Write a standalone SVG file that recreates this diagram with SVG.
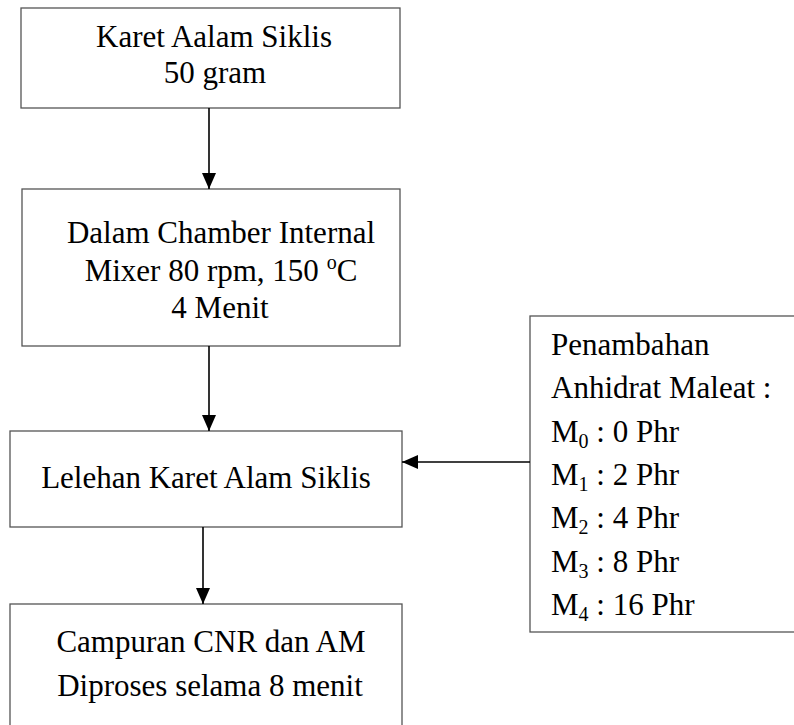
<svg xmlns="http://www.w3.org/2000/svg" width="794" height="725" viewBox="0 0 794 725">
<defs>
<marker id="ah" markerUnits="userSpaceOnUse" markerWidth="16" markerHeight="14" refX="16" refY="7" orient="auto">
<path d="M0,0 L16,7 L0,14 Z" fill="#000"/>
</marker>
</defs>
<style>
.box{fill:#fff;stroke:#555;stroke-width:1.3}
.t{font-family:"Liberation Serif","Times New Roman",serif;font-size:31px;fill:#000}
.c{text-anchor:middle}
.s{font-size:20px}
.conn line{stroke:#000;stroke-width:1.6;marker-end:url(#ah)}
</style>
<g id="n1">
<rect class="box" x="21" y="8" width="379" height="100"/>
<text class="t c" x="214" y="47">Karet Aalam Siklis</text>
<text class="t c" x="215" y="83">50 gram</text>
</g>
<g id="n2">
<rect class="box" x="22" y="189" width="378" height="157"/>
<text class="t c" x="221" y="243">Dalam Chamber Internal</text>
<text class="t c" x="221" y="281">Mixer 80 rpm, 150 <tspan class="s" dy="-12">o</tspan><tspan dy="12">C</tspan></text>
<text class="t c" x="220" y="318">4 Menit</text>
</g>
<g id="n3">
<rect class="box" x="10" y="431" width="392" height="96"/>
<text class="t c" x="206" y="488">Lelehan Karet Alam Siklis</text>
</g>
<g id="n4">
<rect class="box" x="10" y="604" width="392" height="125"/>
<text class="t c" x="211" y="652">Campuran CNR dan AM</text>
<text class="t c" x="210" y="696">Diproses selama 8 menit</text>
</g>
<g id="n5">
<rect class="box" x="530" y="316" width="270" height="316"/>
<text class="t" x="551" y="355">Penambahan</text>
<text class="t" x="551" y="398">Anhidrat Maleat :</text>
<text class="t" x="551" y="442">M<tspan class="s" dy="6">0</tspan><tspan dy="-6"> : 0 Phr</tspan></text>
<text class="t" x="551" y="485">M<tspan class="s" dy="6">1</tspan><tspan dy="-6"> : 2 Phr</tspan></text>
<text class="t" x="551" y="528">M<tspan class="s" dy="6">2</tspan><tspan dy="-6"> : 4 Phr</tspan></text>
<text class="t" x="551" y="572">M<tspan class="s" dy="6">3</tspan><tspan dy="-6"> : 8 Phr</tspan></text>
<text class="t" x="551" y="615">M<tspan class="s" dy="6">4</tspan><tspan dy="-6"> : 16 Phr</tspan></text>
</g>
<g id="connectors" class="conn">
<line x1="209" y1="108" x2="209" y2="189"/>
<line x1="209" y1="346" x2="209" y2="431"/>
<line x1="203" y1="527" x2="203" y2="604"/>
<line x1="530" y1="462" x2="402" y2="462"/>
</g>
</svg>
